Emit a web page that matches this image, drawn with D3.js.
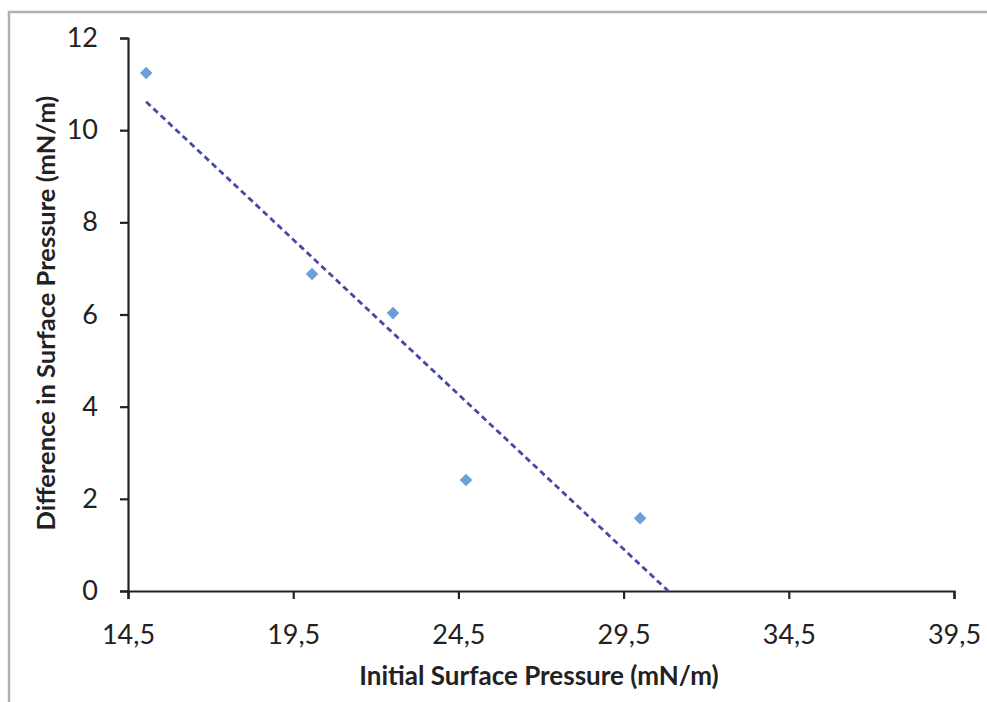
<!DOCTYPE html>
<html><head><meta charset="utf-8">
<script src="https://cdn.jsdelivr.net/npm/d3@7"></script>
<style>
html,body{margin:0;padding:0;background:#fff;}
svg{display:block;}
</style></head>
<body>
<svg id="chart" width="987" height="702"></svg>
<script>
const xValues = [15.05, 20.07, 22.52, 24.73, 30.0];
const yValues = [11.24, 6.88, 6.03, 2.41, 1.58];
const xTicks = [14.5, 19.5, 24.5, 29.5, 34.5, 39.5];
const yTicks = [0, 2, 4, 6, 8, 10, 12];
const xTitle = "Initial Surface Pressure (mN/m)";
const yTitle = "Difference in Surface Pressure (mN/m)";

const svg = d3.select("#chart");
const W = 987, H = 702;
const m = {left: 128, right: 33, top: 38, bottom: 111};

// frame
svg.append("path")
  .attr("d", `M9,${H} L9,12 L${W},12`)
  .attr("fill", "none").attr("stroke", "#b0b0b0").attr("stroke-width", 2.5);

const x = d3.scaleLinear().domain([14.5, 39.5]).range([m.left, W - m.right]);
const y = d3.scaleLinear().domain([0, 12]).range([H - m.bottom, m.top]);

const font = "Lato, 'Open Sans', sans-serif";
const fmt = d => d3.format(".1f")(d).replace(".", ",");

const xAxis = svg.append("g").attr("transform", `translate(0,${y(0)})`)
  .call(d3.axisBottom(x).tickValues(xTicks).tickFormat(fmt).tickSizeOuter(0).tickSize(8).tickPadding(26));
const yAxis = svg.append("g").attr("transform", `translate(${x(14.5)},0)`)
  .call(d3.axisLeft(y).tickValues(yTicks).tickFormat(d3.format("d")).tickSizeOuter(0).tickSize(8).tickPadding(22));

[xAxis, yAxis].forEach(g => {
  g.selectAll(".domain").attr("stroke", "#222").attr("stroke-width", 2.2);
  g.selectAll(".tick line").attr("stroke", "#222").attr("stroke-width", 2.2);
  g.selectAll(".tick text").attr("fill", "#222").style("font-family", font).style("font-size", "27px");
});
xAxis.selectAll(".tick text").attr("dy", "0.71em");

// trendline (least squares)
const n = xValues.length;
const mx = d3.mean(xValues), my = d3.mean(yValues);
let sxy = 0, sxx = 0;
for (let i = 0; i < n; i++) { sxy += (xValues[i]-mx)*(yValues[i]-my); sxx += (xValues[i]-mx)**2; }
const slope = sxy / sxx, icpt = my - slope * mx;
const x0 = d3.min(xValues), x1 = -icpt / slope;
svg.append("line")
  .attr("x1", x(x0)).attr("y1", y(slope*x0+icpt))
  .attr("x2", x(x1)).attr("y2", y(0))
  .attr("stroke", "#4848a8").attr("stroke-width", 2.8).attr("stroke-dasharray", "6,4");

// markers
svg.append("g").selectAll("path").data(xValues.map((v,i)=>[v, yValues[i]])).join("path")
  .attr("d", d3.symbol().type(d3.symbolDiamond2).size(100))
  .attr("transform", d => `translate(${x(d[0])},${y(d[1])})`)
  .attr("fill", "#6b9fd9");

// titles
svg.append("text").attr("x", 539).attr("y", 685)
  .attr("text-anchor", "middle").style("font-family", font).style("font-size", "26px").style("font-weight", "bold")
  .attr("fill", "#222").text(xTitle);
svg.append("text").attr("transform", `translate(55,313) rotate(-90)`)
  .attr("text-anchor", "middle").style("font-family", font).style("font-size", "25.5px").style("font-weight", "bold")
  .attr("fill", "#222").text(yTitle);
</script>
</body></html>
